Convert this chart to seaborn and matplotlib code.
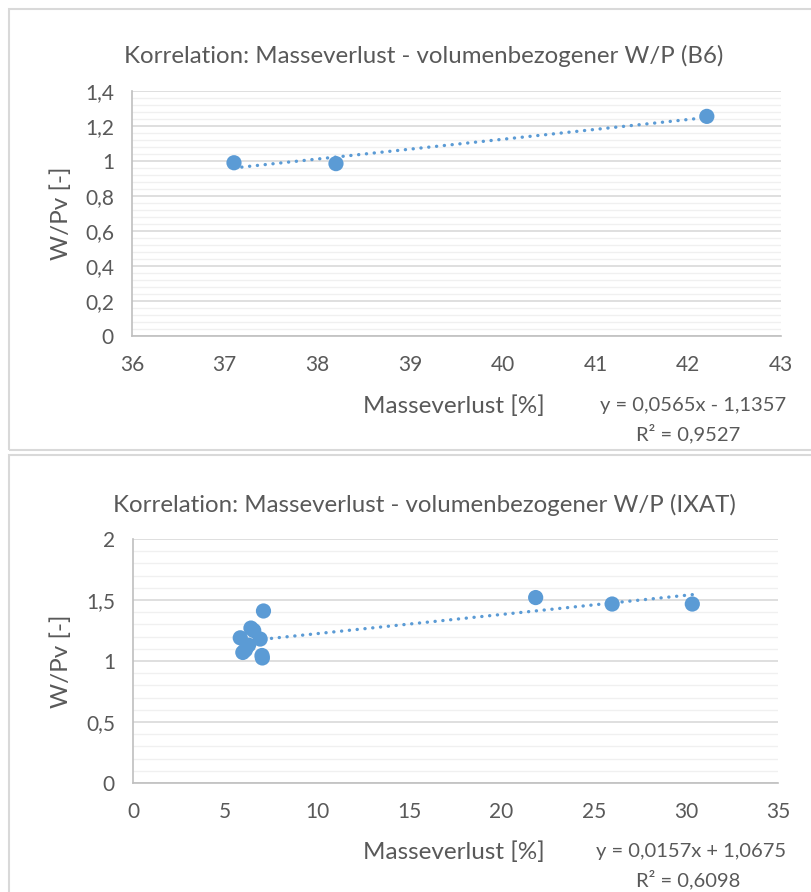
import matplotlib
matplotlib.use("Agg")
import matplotlib.pyplot as plt
from matplotlib.patches import Rectangle
from matplotlib.ticker import MultipleLocator, FuncFormatter
import numpy as np
import pandas as pd
import seaborn as sns

# --- data -------------------------------------------------------------
b6_masseverlust = [37.1, 38.2, 42.2]
b6_wp = [0.99, 0.985, 1.255]
b6_slope, b6_intercept, b6_r2 = 0.0565, -1.1357, 0.9527

ixat_masseverlust = [5.82, 5.96, 6.1, 6.27, 6.4, 6.55, 6.9, 7.0, 7.02, 7.08, 21.85, 26.0, 30.35]
ixat_wp = [1.19, 1.07, 1.09, 1.13, 1.27, 1.25, 1.18, 1.045, 1.025, 1.41, 1.52, 1.467, 1.467]
ixat_slope, ixat_intercept, ixat_r2 = 0.0157, 1.0675, 0.6098

titles = ["Korrelation: Masseverlust - volumenbezogener W/P (B6)",
          "Korrelation: Masseverlust - volumenbezogener W/P (IXAT)"]
x_label = "Masseverlust [%]"
y_label = "W/Pv [-]"

# --- style ------------------------------------------------------------
sns.set_theme(style="white")
plt.rcParams["font.family"] = ["Lato", "DejaVu Sans"]

W, H = 811, 892
fig = plt.figure(figsize=(W / 100, H / 100), dpi=100)
fig.patch.set_facecolor("white")

BLUE = "#5B9BD5"
TXT = "#595959"
MAJOR = "#d9d9d9"
MINOR = "#f0f0f0"
AXIS = "#bfbfbf"


def fx(px):
    return px / W


def fy(py):
    return 1 - py / H


# chart frames
for (y0, y1) in [(9, 450), (455, 900)]:
    fig.patches.append(Rectangle((fx(9), fy(y1)), fx(W + 10 - 9), (y1 - y0) / H,
                                 transform=fig.transFigure, fill=False,
                                 edgecolor=MAJOR, linewidth=1.5, zorder=0))


def comma(v, _pos):
    s = f"{v:g}"
    return s.replace(".", ",")


def make_panel(box, xs, ys, slope, intercept, r2, xlim, xstep, ylim, ystep, yminor,
               title, title_y, label_y, r2_y):
    left, top, right, bottom = box
    ax = fig.add_axes([fx(left), fy(bottom), (right - left) / W, (bottom - top) / H])
    df = pd.DataFrame({"x": xs, "y": ys})

    ax.set_xlim(*xlim)
    ax.set_ylim(*ylim)
    ax.xaxis.set_major_locator(MultipleLocator(xstep))
    ax.yaxis.set_major_locator(MultipleLocator(ystep))
    ax.yaxis.set_minor_locator(MultipleLocator(yminor))
    ax.xaxis.set_major_formatter(FuncFormatter(comma))
    ax.yaxis.set_major_formatter(FuncFormatter(comma))

    ax.grid(False)
    ax.yaxis.grid(True, which="minor", color=MINOR, linewidth=1.0, zorder=0)
    ax.yaxis.grid(True, which="major", color=MAJOR, linewidth=1.2, zorder=0)
    ax.set_axisbelow(True)

    for s in ["top", "right"]:
        ax.spines[s].set_visible(False)
    for s in ["left", "bottom"]:
        ax.spines[s].set_color(AXIS)
        ax.spines[s].set_linewidth(1.2)
    ax.tick_params(axis="both", which="major", direction="out", length=5, width=1,
                   color=AXIS, labelcolor=TXT, labelsize=15, pad=8)
    ax.tick_params(axis="y", which="minor", length=0)
    ax.tick_params(axis="x", pad=9)

    # fitted trend line from the stated equation
    xt = np.array([min(xs), max(xs)])
    ax.plot(xt, slope * xt + intercept, color=BLUE, linewidth=2.4,
            linestyle=(0, (0.05, 2.3)), dash_capstyle="round", zorder=2)

    sns.scatterplot(data=df, x="x", y="y", ax=ax, color=BLUE, s=120,
                    edgecolor="none", linewidth=0, zorder=3, legend=False)
    ax.set_xlabel("")
    ax.set_ylabel("")

    fig.text(fx(424), fy(title_y), title, ha="center", va="center",
             fontsize=17.3, color=TXT)
    fig.text(fx(61), fy((top + bottom) / 2), y_label, rotation=90, ha="center",
             va="center", fontsize=17.5, color=TXT)
    fig.text(fx(454), fy(label_y), x_label, ha="center", va="center",
             fontsize=17.5, color=TXT)
    sign = "-" if intercept < 0 else "+"
    eq = f"y = {slope:.4f}x {sign} {abs(intercept):.4f}".replace(".", ",")
    fig.text(fx(786), fy(label_y), eq, ha="right", va="center",
             fontsize=14.5, color=TXT)
    fig.text(fx(740), fy(r2_y), f"R² = {r2:.4f}".replace(".", ","), ha="right",
             va="center", fontsize=14.5, color=TXT)
    return ax


make_panel((132, 91, 781, 336), b6_masseverlust, b6_wp, b6_slope, b6_intercept, b6_r2,
           (36, 43), 1, (0, 1.4), 0.2, 0.04, titles[0], 56, 406, 434)
make_panel((133, 539, 778, 783), ixat_masseverlust, ixat_wp, ixat_slope, ixat_intercept,
           ixat_r2, (0, 35), 5, (0, 2), 0.5, 0.1, titles[1], 505, 852, 880)

fig.savefig("out.png", dpi=100, facecolor="white")
